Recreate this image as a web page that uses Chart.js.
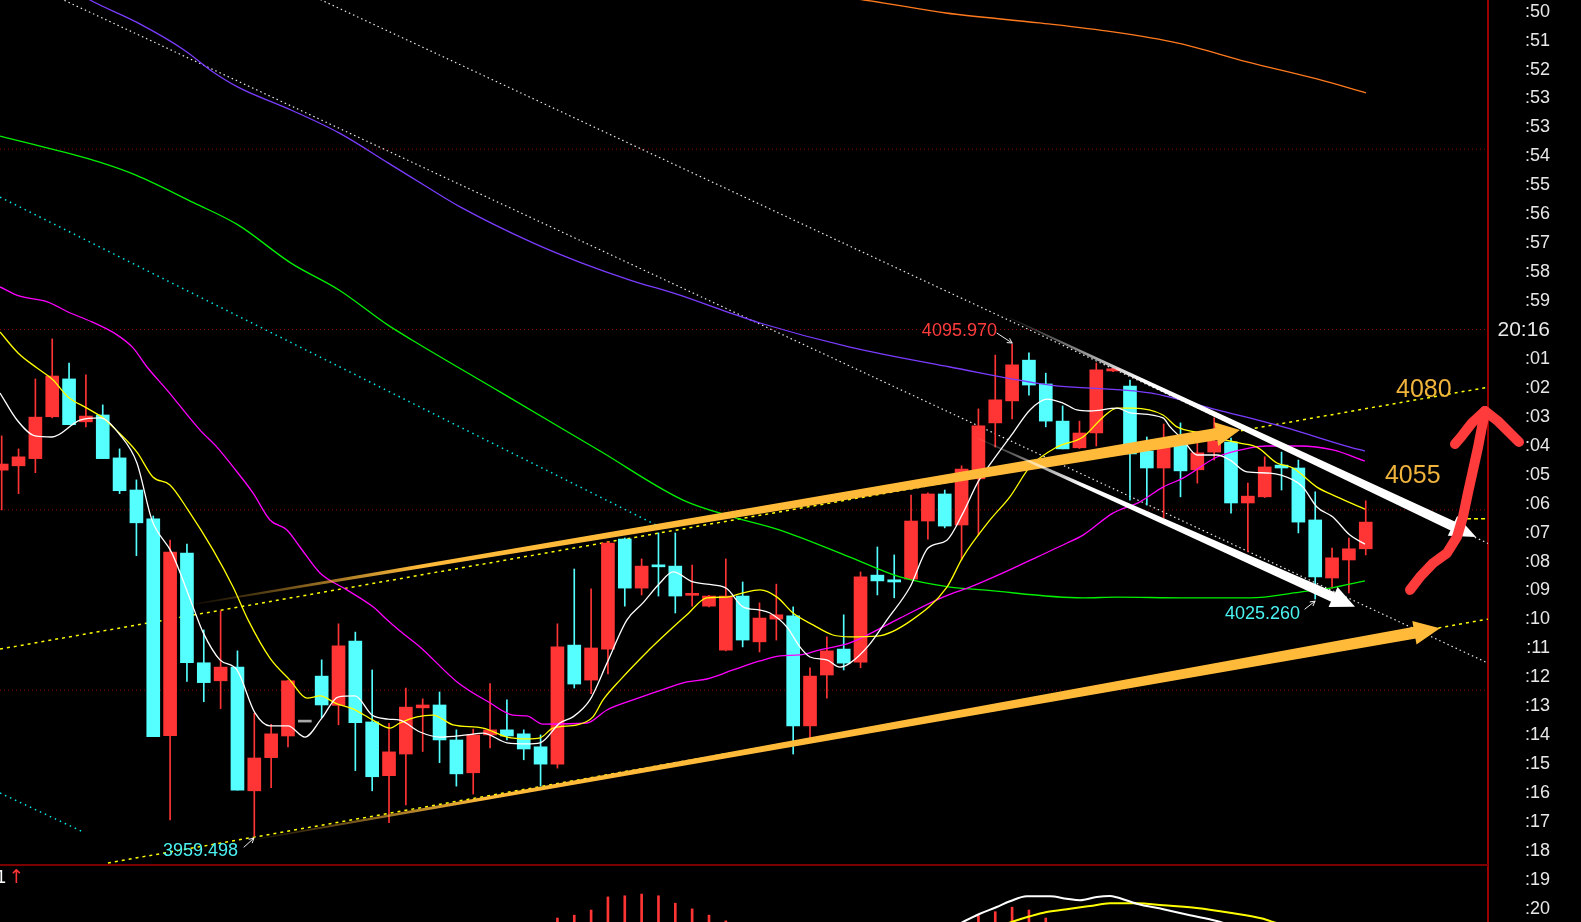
<!DOCTYPE html>
<html>
<head>
<meta charset="utf-8">
<script src="https://cdn.jsdelivr.net/npm/chart.js@4.4.1/dist/chart.umd.min.js"></script>
<style>
html,body{margin:0;padding:0;background:#000;overflow:hidden}
#wrap{position:relative;width:1581px;height:922px;background:#000}
</style>
</head>
<body>
<div id="wrap"><canvas id="c"></canvas></div>
<script>
// ---------- candle data (index = bar number) ----------
const opens  = [4061.0,4062.2,4064.2,4075.8,4086.3,4074.4,4076.3,4064.4,4055.5,4047.5,3987.4,4038.0,4007.6,4002.6,4006.4,3972.1,3981.3,3987.3,3991.4,4003.9,3995.8,4013.6,3991.2,3976.3,3982.3,3995.1,3995.9,3986.2,3977.1,3987.6,3989.0,3987.9,3984.3,3979.5,4012.5,4002.8,4011.4,4041.9,4028.3,4034.6,4034.4,4026.3,4023.3,4011.1,4026.1,4013.4,4019.7,4020.6,3990.1,4004.2,4011.4,4007.8,4031.9,4030.6,4030.8,4046.9,4054.4,4045.8,4058.6,4074.1,4080.2,4091.5,4084.9,4074.6,4067.2,4071.3,4088.5,4084.3,4066.3,4061.6,4068.3,4061.1,4066.0,4068.8,4051.9,4053.6,4062.4,4061.6,4047.2,4031.1,4036.1,4039.2];
const highs  = [4070.5,4066.9,4086.3,4097.4,4090.7,4087.4,4079.1,4066.9,4058.3,4048.3,4041.6,4040.5,4016.7,4022.0,4010.9,3993.6,3990.5,4002.8,3991.4,4008.4,4018.4,4016.1,4005.6,3990.8,4000.6,3997.6,3999.5,3989.0,3989.2,4001.8,3997.3,3989.0,3987.6,4018.4,4033.6,4028.1,4041.2,4042.2,4036.4,4043.6,4043.6,4034.7,4026.3,4036.4,4030.0,4024.2,4029.4,4023.1,4006.2,4014.8,4020.9,4032.8,4039.7,4037.5,4054.1,4054.7,4055.5,4062.2,4078.0,4092.9,4095.97,4093.5,4087.9,4078.8,4074.6,4090.7,4089.3,4086.0,4070.2,4073.8,4074.1,4068.5,4075.5,4069.9,4057.4,4064.7,4066.0,4063.8,4055.0,4039.4,4042.2,4052.5];
const lows   = [4050.0,4054.5,4060.3,4075.5,4073.6,4073.0,4064.2,4054.5,4037.3,3987.1,3964.0,4002.4,3996.8,3994.9,3972.3,3959.498,3973.0,3984.3,3991.4,3992.4,3990.4,3977.7,3972.1,3963.3,3968.2,3983.0,3979.9,3973.4,3971.2,3984.0,3986.2,3980.7,3973.4,3978.4,4000.6,3999.0,4004.5,4023.3,4026.4,4026.1,4021.4,4023.3,4023.1,4010.9,4012.0,4010.6,4013.9,3982.3,3986.8,3997.8,4005.6,4006.2,4026.4,4025.6,4030.6,4041.9,4045.0,4036.1,4043.0,4067.4,4075.2,4081.8,4073.0,4066.9,4067.0,4067.7,4088.3,4052.7,4051.3,4047.7,4053.6,4057.4,4063.8,4049.1,4038.3,4053.4,4055.5,4043.6,4025.26,4028.3,4027.0,4037.5];
const closes = [4062.7,4064.7,4075.7,4087.1,4073.6,4076.0,4064.2,4055.3,4046.4,3987.1,4038.3,4007.6,4002.1,4006.4,3972.3,3981.2,3987.9,4002.6,3991.4,3995.9,4012.3,3991.0,3976.0,3982.9,3995.3,3995.9,3986.2,3976.8,3987.6,3989.0,3987.3,3983.7,3979.5,4012.0,4001.7,4011.7,4040.8,4028.3,4034.4,4034.2,4026.1,4026.7,4026.1,4026.1,4013.9,4020.0,4020.9,3990.1,4003.9,4010.9,4007.5,4031.4,4030.3,4030.0,4046.9,4054.4,4045.5,4061.3,4073.3,4080.5,4090.2,4084.6,4074.6,4066.9,4071.3,4088.8,4089.1,4065.5,4061.6,4067.4,4060.8,4065.8,4069.1,4051.9,4053.8,4061.9,4061.6,4046.6,4031.4,4036.7,4039.2,4046.6];

// right-hand axis labels (top to bottom)
const axisTimeLabels = [':50',':51',':52',':53',':53',':54',':55',':56',':57',':58',':59','20:16',':01',':02',':03',':04',':05',':06',':07',':08',':09',':10',':11',':12',':13',':14',':15',':16',':17',':18',':19',':20'];

// dotted price grid levels
const gridLevels = [4000, 4050, 4100, 4150];
const panelFloor = 3951.5;

// moving averages: [bar index, price]
const maWhite = [[-0.10,4082.4],[0.91,4074.9],[1.98,4070.5],[2.99,4070.2],[4.65,4074.9],[5.84,4075.5],[7.02,4070.8],[8.03,4063.0],[8.92,4047.2],[10.11,4038.0],[11.36,4023.1],[11.95,4016.1],[12.96,4008.4],[13.97,4005.6],[15.04,3993.7],[15.93,3990.1],[17.0,3990.1],[18.01,3987.0],[19.02,3992.3],[19.97,3998.1],[20.98,3998.4],[21.99,3993.1],[22.94,3992.0],[23.65,3991.7],[24.84,3988.4],[26.03,3987.0],[27.63,3987.6],[28.58,3988.1],[30.0,3985.4],[31.19,3985.1],[31.97,3985.4],[33.15,3990.9],[33.92,3992.6],[34.93,3997.3],[35.94,4007.5],[37.13,4019.5],[38.08,4024.2],[39.09,4029.7],[39.86,4032.8],[41.05,4030.0],[42.24,4029.2],[43.07,4028.1],[44.02,4023.1],[45.03,4022.2],[45.62,4021.4],[46.63,4017.5],[47.40,4012.0],[48.0,4009.2],[49.0,4008.4],[49.78,4006.4],[50.37,4007.5],[51.5,4012.5],[52.57,4019.5],[53.94,4028.6],[55.01,4039.4],[56.13,4041.6],[57.08,4049.1],[57.97,4057.7],[58.87,4063.8],[60.05,4071.3],[61.06,4077.7],[62.07,4080.7],[63.02,4079.6],[63.85,4077.7],[64.62,4077.4],[66.23,4078.2],[67.0,4076.9],[68.96,4075.5],[69.38,4073.0],[70.15,4069.4],[70.98,4065.2],[72.17,4065.2],[72.94,4063.8],[73.95,4060.5],[75.31,4060.2],[76.68,4058.3],[77.27,4056.3],[78.1,4050.8],[79.05,4048.0],[80.06,4043.0],[80.95,4040.5]];
const maYellow = [[-0.10,4099.3],[0.97,4093.5],[2.10,4089.3],[3.05,4086.0],[3.94,4081.3],[5.06,4078.2],[6.02,4075.5],[6.91,4071.6],[8.03,4066.0],[8.98,4059.1],[9.99,4056.9],[11.06,4050.0],[12.55,4038.9],[13.74,4028.6],[14.63,4019.5],[15.93,4008.9],[17.12,4002.8],[18.13,3997.8],[18.90,3998.4],[19.91,3996.2],[20.86,3994.8],[22.05,3991.7],[23.06,3989.5],[23.65,3990.9],[24.66,3992.6],[25.61,3993.1],[26.80,3990.4],[28.58,3989.5],[30.0,3987.0],[31.19,3986.5],[31.97,3986.8],[32.74,3989.5],[34.16,3990.4],[35.11,3992.6],[35.71,3997.3],[36.72,4002.8],[38.32,4010.6],[39.51,4015.9],[40.69,4020.9],[41.88,4025.6],[43.07,4025.8],[44.02,4027.0],[45.03,4027.8],[46.04,4025.8],[46.99,4021.4],[48.18,4018.1],[49.36,4015.3],[50.37,4014.8],[52.0,4015.0],[54.06,4019.5],[56.13,4028.6],[57.08,4036.9],[58.69,4047.2],[59.87,4053.6],[61.06,4061.9],[62.66,4067.4],[64.21,4070.2],[65.40,4075.7],[66.23,4078.2],[67.18,4078.2],[68.96,4076.3],[69.79,4073.0],[71.16,4071.3],[72.17,4069.9],[73.53,4068.5],[74.54,4067.4],[75.73,4063.0],[76.68,4061.6],[78.1,4056.3],[79.29,4053.6],[80.95,4050.2]];
const maMagenta = [[-0.10,4111.8],[1.03,4109.3],[2.75,4107.6],[3.94,4104.85],[5.36,4102.1],[6.85,4098.5],[7.80,4094.9],[8.63,4089.6],[9.82,4083.2],[11.78,4072.1],[12.78,4067.4],[13.74,4061.9],[14.92,4054.7],[15.93,4047.2],[16.94,4044.4],[17.71,4039.7],[18.90,4032.5],[20.50,4027.8],[22.05,4023.1],[22.88,4019.5],[23.65,4016.4],[24.84,4012.0],[27.04,4002.3],[28.99,3996.5],[30.36,3993.1],[31.19,3992.85],[32.14,3990.6],[34.76,3990.9],[35.94,3994.5],[37.49,3997.3],[39.51,4000.6],[40.69,4002.3],[41.88,4003.1],[43.43,4005.6],[45.03,4008.1],[46.22,4009.5],[47.40,4009.8],[48.59,4011.2],[50.37,4013.1],[53.34,4020.0],[55.90,4025.8],[57.68,4028.9],[59.46,4032.5],[61.48,4036.9],[63.26,4040.8],[64.21,4043.0],[65.99,4049.1],[67.59,4052.2],[68.96,4056.3],[70.15,4058.8],[72.17,4064.65],[74.13,4067.15],[75.14,4067.7],[77.09,4067.7],[79.05,4066.6],[80.95,4063.5]];
const maPurple = [[4.06,4194.7],[5.24,4191.35],[8.09,4185.0],[10.83,4177.5],[12.55,4171.4],[14.03,4167.2],[17.18,4160.85],[20.03,4154.5],[22.94,4146.2],[25.26,4139.5],[27.22,4134.0],[31.55,4124.0],[34.46,4118.4],[37.31,4113.7],[40.22,4109.6],[43.07,4104.9],[45.03,4101.8],[50.37,4095.1],[56.31,4089.6],[62.25,4084.6],[68.19,4082.4],[72.17,4077.7],[76.09,4073.0],[80.06,4067.4],[80.95,4066.3]];
const maGreen = [[-0.10,4153.6],[2.75,4150.3],[5.95,4146.2],[7.97,4142.8],[11.42,4135.1],[14.03,4129.0],[17.18,4118.4],[20.03,4110.95],[22.94,4101.2],[24.36,4097.1],[29.59,4082.7],[35.53,4066.3],[40.46,4052.7],[43.43,4048.0],[46.22,4044.4],[50.37,4036.9],[53.34,4031.4],[56.31,4028.6],[58.27,4027.8],[64.21,4025.6],[66.23,4025.8],[70.15,4025.6],[74.13,4025.6],[77.09,4027.2],[78.87,4028.3],[80.95,4030.3]];
const maOrange = [[47.4,4193.3],[51.21,4191.35],[56.07,4187.75],[61.60,4185.0],[65.99,4182.5],[69.85,4179.4],[73.95,4174.2],[78.1,4169.45],[81.01,4165.6]];

// straight drawn lines: [bar index, price] end points
const trendWhiteUpper = [[17.71,4194.1],[88.26,4040.7]];
const trendWhiteLower = [[2.27,4194.4],[88.26,4007.5]];
const trendCyanUpper = [[-0.10,4136.7],[39.09,4045.25]];
const trendCyanLower = [[-0.10,3971.5],[4.83,3960.7]];
const trendYellowUpper = [[-0.10,4011.4],[88.26,4084.0]];
const trendYellowLower = [[6.31,3952.1],[88.26,4019.7]];
const lastPriceDash = [[86.6,4047.5],[88.26,4047.5]];

// lower indicator panel
const subBarIdx = [33,34,35,36,37,38,39,40,41,42,43,58,59,60,61,62];
const subBarVal = [0.7,1.2,2.1,4.4,4.6,4.9,4.6,3.3,2.3,1.2,0.2,1.1,1.8,2.6,2.1,0.7];
const subWhite = [[56.7,-0.6],[57.08,0],[58.09,1.45],[59.09,2.63],[59.87,3.63],[60.87,4.51],[62.25,4.51],[63.24,4.09],[64.03,3.81],[65.03,4.39],[65.81,4.56],[66.21,4.33],[67.40,3.21],[68.98,2.23],[70.56,1.19],[72.15,0.18],[72.9,-0.5]];
const subYellow = [[59.3,-0.7],[59.97,0],[61.06,1.0],[62.05,1.75],[63.44,2.33],[64.63,2.81],[65.81,3.28],[67.4,3.28],[68.98,2.93],[70.96,2.46],[72.94,1.63],[74.92,0.58],[75.49,0],[76.3,-0.6]];

// annotations
const arrowOrangeUpper = [[11.48,4023.9],[73.53,4072.1]];
const arrowOrangeLower = [[14.92,3958.5],[85.41,4017.2]];
const arrowWhiteUpper = [[59.87,4103.2],[87.55,4042.5]];
const arrowWhiteLower = [[57.92,4069.9],[80.36,4023.1]];
const redStroke = [[83.63,4027.8],[84.22,4031.4],[84.99,4035.2],[85.82,4038.0],[86.42,4042.5],[86.77,4048.0],[87.07,4054.7],[87.37,4061.0],[87.67,4067.4],[87.90,4073.0],[88.08,4076.85]];
const redHeadLeft = [[86.30,4068.25],[86.71,4070.5],[87.31,4074.1],[88.08,4077.4]];
const redHeadRight = [[88.08,4077.4],[88.85,4074.6],[89.56,4071.3],[90.10,4068.8]];
const priceNotes = [
  {text:'4095.970', at:[59.10,4099.45], color:'#ff3c3c', size:18, align:'right'},
  {text:'3959.498', at:[14.03,3955.4], color:'#4cf2f2', size:18, align:'right'},
  {text:'4025.260', at:[77.10,4021.0], color:'#4cf2f2', size:18, align:'right'},
  {text:'4080', at:[82.80,4083.2], color:'#f0b43c', size:25, align:'left'},
  {text:'4055', at:[82.14,4059.25], color:'#f0b43c', size:25, align:'left'}
];
const noteArrows = [
  [[59.10,4099.0],[60.0,4096.25]],
  [[14.39,3956.5],[14.98,3959.0]],
  [[77.39,4022.5],[77.99,4024.7]]
];

// ---------- build datasets ----------
const UP = '#ff3434', DOWN = '#55ffff', FLAT = '#a8a8a8';
const candleColors = opens.map((o,i)=> closes[i] > o ? UP : (closes[i] < o ? DOWN : FLAT));
const bodies = opens.map((o,i)=> {
  const c = closes[i];
  return {x:i, y: o === c ? [o-0.25, c+0.25] : [o, c]};
});
const wicks = opens.map((o,i)=> ({x:i, y:[lows[i], highs[i]]}));
const pts = a => a.map(([x,y])=>({x,y}));

function line(data, color, width, order, extra) {
  return Object.assign({type:'line', data: pts(data), borderColor: color, borderWidth: width,
    pointRadius: 0, fill: false, tension: 0, order: order}, extra || {});
}
const smooth = {cubicInterpolationMode:'monotone'};

const datasets = [];
gridLevels.forEach(v => datasets.push(line([[-0.1,v],[88.26,v]], '#8a0000', 1, 30, {borderDash:[1,3]})));
datasets.push(line(trendWhiteUpper, '#e8e8e8', 1.2, 20, {borderDash:[1.5,3]}));
datasets.push(line(trendWhiteLower, '#e8e8e8', 1.2, 20, {borderDash:[1.5,3]}));
datasets.push(line(trendCyanUpper, '#00e8e8', 1.5, 20, {borderDash:[1.5,4]}));
datasets.push(line(trendCyanLower, '#00e8e8', 1.5, 20, {borderDash:[1.5,4]}));
datasets.push(line(trendYellowUpper, '#ffff00', 1.5, 20, {borderDash:[3,4]}));
datasets.push(line(trendYellowLower, '#ffff00', 1.5, 20, {borderDash:[3,4]}));
datasets.push(line(lastPriceDash, '#ffff00', 1.5, 20, {borderDash:[4,3]}));

datasets.push({type:'bar', data: wicks, backgroundColor: candleColors, borderWidth:0,
  barThickness:1, maxBarThickness:1, grouped:false, order:12});
datasets.push({type:'bar', data: bodies, backgroundColor: candleColors, borderWidth:0,
  barThickness:13, maxBarThickness:13, minBarLength:2, grouped:false, order:11});
datasets.push({type:'bar', yAxisID:'ysub', data: subBarIdx.map((x,k)=>({x, y: subBarVal[k]})),
  backgroundColor: UP, borderWidth:0, barThickness:2, maxBarThickness:2, grouped:false, order:11});

datasets.push(line(maOrange, '#ff7a1e', 1.3, 7, smooth));
datasets.push(line(maGreen, '#00f000', 1.3, 6, smooth));
datasets.push(line(maPurple, '#7b3cff', 1.3, 5, smooth));
datasets.push(line(maMagenta, '#ff00ff', 1.3, 4, smooth));
datasets.push(line(maYellow, '#ffff00', 1.3, 3, smooth));
datasets.push(line(maWhite, '#ffffff', 1.3, 2, smooth));
datasets.push(line(subYellow, '#ffff00', 2, 3, Object.assign({yAxisID:'ysub'}, smooth)));
datasets.push(line(subWhite, '#ffffff', 2, 2, Object.assign({yAxisID:'ysub'}, smooth)));
datasets.push(line([[-0.1,panelFloor],[88.26,panelFloor]], '#7a0000', 2, 1));

// ---------- annotation drawing plugin ----------
function rgba(rgb, a){ return 'rgba(' + rgb.join(',') + ',' + a + ')'; }
function bigArrow(ctx, a, b, st) {
  const dx=b[0]-a[0], dy=b[1]-a[1], len=Math.hypot(dx,dy);
  const ux=dx/len, uy=dy/len, nx=-uy, ny=ux;
  const bx=b[0]-ux*st.head, by=b[1]-uy*st.head;
  const g = ctx.createLinearGradient(a[0],a[1],bx,by);
  g.addColorStop(0, rgba(st.rgb,0.05));
  g.addColorStop(st.fade, rgba(st.rgb,1));
  g.addColorStop(1, rgba(st.rgb,1));
  ctx.fillStyle = g;
  ctx.beginPath();
  ctx.moveTo(a[0]+nx*st.w0/2, a[1]+ny*st.w0/2);
  ctx.lineTo(bx+ux*2+nx*st.w1/2, by+uy*2+ny*st.w1/2);
  ctx.lineTo(bx+ux*2-nx*st.w1/2, by+uy*2-ny*st.w1/2);
  ctx.lineTo(a[0]-nx*st.w0/2, a[1]-ny*st.w0/2);
  ctx.closePath(); ctx.fill();
  ctx.fillStyle = rgba(st.rgb,1);
  ctx.beginPath();
  ctx.moveTo(b[0],b[1]);
  ctx.lineTo(bx+nx*st.half, by+ny*st.half);
  ctx.lineTo(bx-nx*st.half, by-ny*st.half);
  ctx.closePath(); ctx.fill();
}
function smallArrow(ctx, a, b) {
  const ang = Math.atan2(b[1]-a[1], b[0]-a[0]);
  ctx.strokeStyle = '#f0f0f0'; ctx.lineWidth = 1;
  ctx.beginPath(); ctx.moveTo(a[0],a[1]); ctx.lineTo(b[0],b[1]);
  ctx.moveTo(b[0]-5*Math.cos(ang-0.5), b[1]-5*Math.sin(ang-0.5)); ctx.lineTo(b[0],b[1]);
  ctx.lineTo(b[0]-5*Math.cos(ang+0.5), b[1]-5*Math.sin(ang+0.5));
  ctx.stroke();
}
const FONT = '"Liberation Sans", Arial, sans-serif';
const overlay = {
  id:'overlay',
  afterDatasetsDraw(chart) {
    const {ctx, scales} = chart;
    const X = scales.x, Y = scales.y, S = scales.ysub;
    const P = p => [X.getPixelForValue(p[0]), Y.getPixelForValue(p[1])];
    ctx.save();
    bigArrow(ctx, P(arrowOrangeUpper[0]), P(arrowOrangeUpper[1]), {rgb:[255,186,58], w0:1.5, w1:12, head:24, half:12, fade:0.22});
    bigArrow(ctx, P(arrowOrangeLower[0]), P(arrowOrangeLower[1]), {rgb:[255,186,58], w0:1.5, w1:12, head:26, half:12, fade:0.2});
    bigArrow(ctx, P(arrowWhiteUpper[0]), P(arrowWhiteUpper[1]), {rgb:[255,255,255], w0:1, w1:10, head:26, half:11, fade:0.3});
    bigArrow(ctx, P(arrowWhiteLower[0]), P(arrowWhiteLower[1]), {rgb:[255,255,255], w0:1, w1:10, head:24, half:11, fade:0.3});
    ctx.strokeStyle = '#ff3b3b'; ctx.lineWidth = 10; ctx.lineCap = 'round'; ctx.lineJoin = 'round';
    [redStroke, redHeadLeft, redHeadRight].forEach(poly => {
      ctx.beginPath();
      poly.forEach((p,k) => { const q = P(p); if (k) ctx.lineTo(q[0],q[1]); else ctx.moveTo(q[0],q[1]); });
      ctx.stroke();
    });
    noteArrows.forEach(([a,b]) => smallArrow(ctx, P(a), P(b)));
    ctx.textBaseline = 'middle';
    priceNotes.forEach(n => {
      const q = P(n.at);
      ctx.font = n.size + 'px ' + FONT;
      ctx.fillStyle = n.color; ctx.textAlign = n.align;
      ctx.fillText(n.text, q[0], q[1]);
    });
    ctx.font = '18px ' + FONT;
    ctx.textAlign = 'right'; ctx.fillStyle = '#ffffff';
    ctx.fillText('1', X.getPixelForValue(0.26), S.getPixelForValue(7.7));
    ctx.font = '19px "DejaVu Sans", sans-serif';
    ctx.textAlign = 'center'; ctx.fillStyle = '#ff3434';
    ctx.fillText('\u2191', X.getPixelForValue(0.88), S.getPixelForValue(7.7));
    ctx.restore();
  }
};

new Chart(document.getElementById('c'), {
  type: 'bar',
  data: { datasets },
  plugins: [overlay],
  options: {
    responsive: true, maintainAspectRatio: false, animation: false, events: [],
    layout: { padding: {left:0, top:0, bottom:0, right:31} },
    plugins: { legend: {display:false}, tooltip: {enabled:false}, title: {display:false} },
    scales: {
      x: { type:'linear', min:-0.101, max:88.26, display:false, offset:false },
      y: { type:'linear', min:3935.73, max:4191.35, display:false },
      ysub: { type:'linear', min:0, max:161.75, display:false },
      y2: {
        type:'linear', position:'right', reverse:true, min:-0.404, max:31.455,
        grid: { display:false, drawTicks:false },
        border: { display:true, color:'#9a0000', width:2 },
        ticks: {
          autoSkip:false, crossAlign:'far', padding:10, color:'#e8e8e8',
          font: c => ({family: FONT, size: c.index === 11 ? 21 : 18}),
          callback: v => axisTimeLabels[v] !== undefined ? axisTimeLabels[v] : ''
        },
        afterBuildTicks: s => { s.ticks = axisTimeLabels.map((_,k)=>({value:k})); },
        afterFit: s => { s.width = 62; s.paddingTop = 0; s.paddingBottom = 0; }
      }
    }
  }
});
</script>
</body>
</html>
